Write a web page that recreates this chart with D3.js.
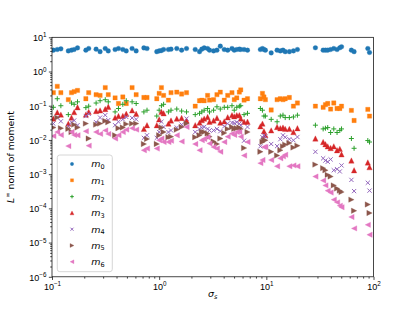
<!DOCTYPE html>
<html>
<head>
<meta charset="utf-8">
<script src="https://cdn.jsdelivr.net/npm/d3@7"></script>
<style>
  body { margin: 0; background: #fff; }
  svg { display: block; font-family: "DejaVu Sans", sans-serif; }
</style>
</head>
<body>
<svg id="chart" width="415" height="311"></svg>
<script>
// sigma_s values (x) and the L-infinity norm of each moment (y)
const sigma = [0.103, 0.112, 0.121, 0.142, 0.152, 0.161, 0.173, 0.207, 0.22, 0.258, 0.281, 0.314, 0.335,
  0.388, 0.417, 0.458, 0.493, 0.559, 0.61, 0.72, 0.77, 0.95, 1.0, 1.05, 1.1, 1.22, 1.29, 1.46, 1.62, 1.8,
  2.17, 2.38, 2.5, 2.63, 2.83, 2.95, 3.22, 3.46, 3.72, 4.05, 4.36, 4.78, 5.02, 5.3, 5.6, 5.77, 6.2, 6.67,
  8.8, 9.2, 9.5, 9.8, 11.1, 12.6, 13.5, 14.3, 15.0, 16.4, 17.9, 19.5,
  28.7, 33.9, 35.6, 37.4, 39.8, 42.6, 45.7, 48.5, 50.3, 62.2, 65.9, 88.5, 91.8];

const m0 = [4.2, 4.4, 4.6, 4.0, 4.2, 4.4, 4.9, 4.2, 4.7, 4.5, 3.8, 4.7, 4.0,
  4.4, 4.7, 4.4, 4.0, 4.7, 4.0, 4.9, 4.7, 3.8, 4.0, 4.1, 4.4, 4.4, 4.5, 4.7, 4.2, 4.7,
  4.4, 3.8, 4.5, 4.9, 4.7, 4.2, 4.0, 4.2, 5.5, 4.4, 4.2, 4.7, 4.2, 4.4, 4.5, 4.4, 4.4, 4.2,
  4.4, 4.7, 4.4, 4.2, 3.5, 4.2, 4.0, 4.2, 3.8, 3.8, 4.0, 4.4,
  4.95, 4.2, 4.2, 4.2, 4.4, 4.7, 4.4, 4.95, 5.3, 4.2, 3.8, 4.7, 3.6];

const m1 = [0.24, 0.37, 0.24, 0.15, 0.24, 0.26, 0.28, 0.16, 0.24, 0.21, 0.2, 0.34, 0.21,
  0.17, 0.116, 0.18, 0.116, 0.34, 0.21, 0.174, 0.174, 0.16, 0.23, 0.34, 0.2, 0.145, 0.24, 0.25, 0.22, 0.24,
  0.097, 0.14, 0.145, 0.14, 0.2, 0.145, 0.15, 0.21, 0.25, 0.145, 0.2, 0.24, 0.15, 0.17, 0.25, 0.29, 0.145, 0.16,
  0.16, 0.23, 0.18, 0.15, 0.075, 0.15, 0.16, 0.15, 0.16, 0.174, 0.097, 0.12,
  0.097, 0.09, 0.107, 0.116, 0.08, 0.12, 0.083, 0.083, 0.097, 0.073, 0.037, 0.078, 0.05];

const m2 = [0.09, 0.16, 0.1, 0.055, 0.12, 0.11, 0.13, 0.088, 0.097, 0.12, 0.14, 0.15, 0.13,
  0.066, 0.083, 0.11, 0.14, 0.13, 0.116, 0.066, 0.074, 0.05, 0.074, 0.1, 0.11, 0.066, 0.074, 0.08, 0.07, 0.066,
  0.055, 0.06, 0.066, 0.074, 0.083, 0.066, 0.074, 0.093, 0.08, 0.09, 0.09, 0.1, 0.074, 0.09, 0.097, 0.1, 0.055, 0.06,
  0.083, 0.074, 0.05, 0.05, 0.04, 0.034, 0.05, 0.053, 0.045, 0.045, 0.047, 0.053,
  0.027, 0.021, 0.022, 0.023, 0.0165, 0.021, 0.0165, 0.019, 0.021, 0.011, 0.0057, 0.0096, 0.0087];

const m3 = [0.042, 0.064, 0.055, 0.03, 0.045, 0.065, 0.09, 0.055, 0.066, 0.07, 0.073, 0.08, 0.093,
  0.045, 0.05, 0.05, 0.058, 0.073, 0.058, 0.021, 0.027, 0.027, 0.04, 0.066, 0.06, 0.03, 0.037, 0.042, 0.044, 0.037,
  0.027, 0.032, 0.038, 0.042, 0.047, 0.034, 0.037, 0.044, 0.032, 0.035, 0.046, 0.053, 0.049, 0.053, 0.053, 0.042, 0.034, 0.034,
  0.025, 0.03, 0.018, 0.014, 0.019, 0.024, 0.022, 0.023, 0.021, 0.021, 0.017, 0.022,
  0.011, 0.0087, 0.0075, 0.0065, 0.0058, 0.0065, 0.005, 0.0055, 0.0038, 0.0025, 0.0013, 0.0022, 0.0016];

const m4 = [0.03, 0.045, 0.035, 0.025, 0.033, 0.037, 0.027, 0.05, 0.058, 0.033, 0.045, 0.053, 0.038,
  0.027, 0.034, 0.04, 0.047, 0.044, 0.04, 0.0115, 0.0137, 0.0115, 0.017, 0.034, 0.024, 0.017, 0.019, 0.023, 0.028, 0.042,
  0.017, 0.021, 0.023, 0.024, 0.021, 0.019, 0.019, 0.021, 0.018, 0.025, 0.03, 0.032, 0.031, 0.033, 0.03, 0.027, 0.0095, 0.024,
  0.0065, 0.012, 0.0137, 0.0125, 0.0076, 0.0066, 0.0105, 0.0137, 0.012, 0.0105, 0.0098, 0.0122,
  0.0045, 0.0029, 0.0025, 0.0023, 0.0027, 0.0013, 0.0014, 0.0012, 0.0018, 0.00068, 0.00032, 0.00056, 0.00033];

const m5 = [0.023, 0.045, 0.022, 0.021, 0.017, 0.028, 0.023, 0.03, 0.011, 0.028, 0.03, 0.036, 0.033,
  0.0137, 0.022, 0.023, 0.029, 0.03, 0.03, 0.0076, 0.0107, 0.0076, 0.0137, 0.023, 0.017, 0.012, 0.0125, 0.02, 0.024, 0.03,
  0.012, 0.0137, 0.017, 0.017, 0.0153, 0.0125, 0.009, 0.0076, 0.011, 0.016, 0.021, 0.024, 0.021, 0.022, 0.023, 0.021, 0.0058, 0.017,
  0.0045, 0.0087, 0.0098, 0.0098, 0.0045, 0.0035, 0.005, 0.0065, 0.0073, 0.0081, 0.006, 0.0068,
  0.0019, 0.0015, 0.0013, 0.00095, 0.00085, 0.00047, 0.00038, 0.00033, 0.0003, 0.00018, 0.000085, 0.00013, 0.000073];

const m6 = [0.013, 0.017, 0.014, 0.0066, 0.017, 0.014, 0.0137, 0.018, 0.0068, 0.017, 0.015, 0.019, 0.015,
  0.011, 0.0137, 0.017, 0.02, 0.022, 0.02, 0.005, 0.0056, 0.0056, 0.0098, 0.011, 0.0087, 0.0087, 0.0095, 0.0137, 0.009, 0.024,
  0.0076, 0.005, 0.0098, 0.0107, 0.012, 0.0079, 0.0062, 0.0056, 0.0045, 0.0087, 0.0125, 0.0153, 0.014, 0.017, 0.017, 0.0125, 0.0035, 0.0087,
  0.0021, 0.0026, 0.0062, 0.0062, 0.0026, 0.0017, 0.0029, 0.0033, 0.0037, 0.0017, 0.0018, 0.0017,
  0.00085, 0.00065, 0.00047, 0.00033, 0.00029, 0.00018, 0.00015, 0.00012, 0.000108, 0.000056, 0.000026, 0.000033, 0.000017];

const moments = [m0, m1, m2, m3, m4, m5, m6];
const momentSubs = ["0", "1", "2", "3", "4", "5", "6"];

const xTicks = [0.1, 1, 10, 100];
const xTickExps = ["\u22121", "0", "1", "2"];
const yTicks = [10, 1, 0.1, 0.01, 1e-3, 1e-4, 1e-5, 1e-6];
const yTickExps = ["1", "0", "\u22121", "\u22122", "\u22123", "\u22124", "\u22125", "\u22126"];

/** Matplotlib tab10 colours and markers used by plt.scatter for each series. */
const colors = ["#1f77b4", "#ff7f0e", "#2ca02c", "#d62728", "#9467bd", "#8c564b", "#e377c2"];
const markers = ["o", "s", "+", "^", "x", ">", "<"];

const plotL = 52, plotR = 373.5, plotT = 37.3, plotB = 276.8;

const svg = d3.select("#chart");

const x = d3.scaleLog().domain([0.1, 100]).range([plotL, plotR]);
const y = d3.scaleLog().domain([1e-6, 10]).range([plotB, plotT]);

/** Path string for a marker of the given kind, centered at 0,0. */
function markerPath(kind, s) {
  const h = s / 2;
  switch (kind) {
    case "o": return `M${h},0A${h},${h} 0 1,1 ${-h},0A${h},${h} 0 1,1 ${h},0Z`;
    case "s": return `M${-h},${-h}h${s}v${s}h${-s}Z`;
    case "^": return `M0,${-h}L${h},${h}L${-h},${h}Z`;
    case ">": return `M${h},0L${-h},${-h}L${-h},${h}Z`;
    case "<": return `M${-h},0L${h},${-h}L${h},${h}Z`;
    case "+": return `M${-h},0H${h}M0,${-h}V${h}`;
    case "x": return `M${-h},${-h}L${h},${h}M${-h},${h}L${h},${-h}`;
  }
}
const markerSize = { o: 4.7, s: 4.3, "^": 5.4, ">": 5.4, "<": 5.4, "+": 5.0, x: 4.2 };
const isLine = (k) => k === "+" || k === "x";

function styleMarker(sel, i, scale) {
  const k = markers[i];
  sel.attr("d", markerPath(k, markerSize[k] * scale));
  if (isLine(k)) sel.attr("fill", "none").attr("stroke", colors[i]).attr("stroke-width", 1);
  else sel.attr("fill", colors[i]).attr("stroke", colors[i]).attr("stroke-width", 0.3);
}

svg.append("defs").append("clipPath").attr("id", "clip")
  .append("rect").attr("x", plotL).attr("y", plotT)
  .attr("width", plotR - plotL).attr("height", plotB - plotT);

// scatter points, one group per moment
const plot = svg.append("g").attr("clip-path", "url(#clip)");
moments.forEach((vals, i) => {
  plot.append("g")
    .selectAll("path")
    .data(sigma.map((s, j) => [s, vals[j]]))
    .join("path")
    .attr("transform", (d) => `translate(${x(d[0])},${y(d[1])})`)
    .call(styleMarker, i, 1);
});

// minor ticks 2..9 per decade
const minorX = [], minorY = [];
for (let e = -1; e < 2; e++) for (let m = 2; m < 10; m++) minorX.push(m * 10 ** e);
for (let e = -6; e < 1; e++) for (let m = 2; m < 10; m++) minorY.push(m * 10 ** e);

function addAxis(axis, transform) {
  const g = svg.append("g").attr("transform", transform).call(axis);
  g.select(".domain").remove();
  g.selectAll(".tick line").attr("stroke", "#000").attr("stroke-width", 0.72);
  return g;
}

addAxis(d3.axisBottom(x).tickValues(minorX).tickSize(1.8).tickFormat(""), `translate(0,${plotB})`);
addAxis(d3.axisLeft(y).tickValues(minorY).tickSize(1.8).tickFormat(""), `translate(${plotL},0)`);

const xAxisG = addAxis(d3.axisBottom(x).tickValues(xTicks).tickSize(3.15).tickFormat(""), `translate(0,${plotB})`);
const yAxisG = addAxis(d3.axisLeft(y).tickValues(yTicks).tickSize(3.15).tickFormat(""), `translate(${plotL},0)`);

// "10" with superscript exponent labels
xAxisG.selectAll(".tick text").each(function (d, i) {
  const t = d3.select(this).attr("y", 13.4).attr("dy", null)
    .attr("fill", "#000").attr("font-size", 9).attr("text-anchor", "middle");
  t.append("tspan").text("10");
  t.append("tspan").attr("font-size", 6.3).attr("dy", -3.9).text(xTickExps[i]);
});
yAxisG.selectAll(".tick text").each(function (d, i) {
  const t = d3.select(this).attr("x", -5.6).attr("dy", null).attr("y", 3.4)
    .attr("fill", "#000").attr("font-size", 9).attr("text-anchor", "end");
  t.append("tspan").text("10");
  t.append("tspan").attr("font-size", 6.3).attr("dy", -3.9).text(yTickExps[i]);
});

// axes frame
svg.append("rect")
  .attr("x", plotL).attr("y", plotT)
  .attr("width", plotR - plotL).attr("height", plotB - plotT)
  .attr("fill", "none").attr("stroke", "#000").attr("stroke-width", 0.72);

// axis labels
const xl = svg.append("text").attr("x", (plotL + plotR) / 2).attr("y", 297)
  .attr("text-anchor", "middle").attr("font-size", 9.5);
xl.append("tspan").attr("font-style", "italic").text("\u03c3");
xl.append("tspan").attr("font-style", "italic").attr("font-size", 6.5).attr("dy", 1.6).text("s");

const yl = svg.append("text")
  .attr("transform", `translate(14,${(plotT + plotB) / 2}) rotate(-90)`)
  .attr("text-anchor", "middle").attr("font-size", 9.3);
yl.append("tspan").attr("font-style", "italic").text("L");
yl.append("tspan").attr("font-size", 6.5).attr("dy", -3.6).text("\u221e");
yl.append("tspan").attr("dy", 3.6).text(" norm of moment");

// legend
const lg = svg.append("g").attr("transform", "translate(57.3,155)");
lg.append("rect").attr("width", 55).attr("height", 116.7).attr("rx", 2.5)
  .attr("fill", "#fff").attr("fill-opacity", 0.8)
  .attr("stroke", "#cccccc").attr("stroke-width", 0.8);
momentSubs.forEach((sub, i) => {
  const row = lg.append("g").attr("transform", `translate(0,${9 + i * 16.3})`);
  row.append("path").attr("transform", "translate(14.7,0)").call(styleMarker, i, 0.72);
  const t = row.append("text").attr("x", 34).attr("y", 3.3).attr("font-size", 9.5);
  t.append("tspan").attr("font-style", "italic").text("m");
  t.append("tspan").attr("font-size", 6.5).attr("dy", 1.6).text(sub);
});
</script>
</body>
</html>
